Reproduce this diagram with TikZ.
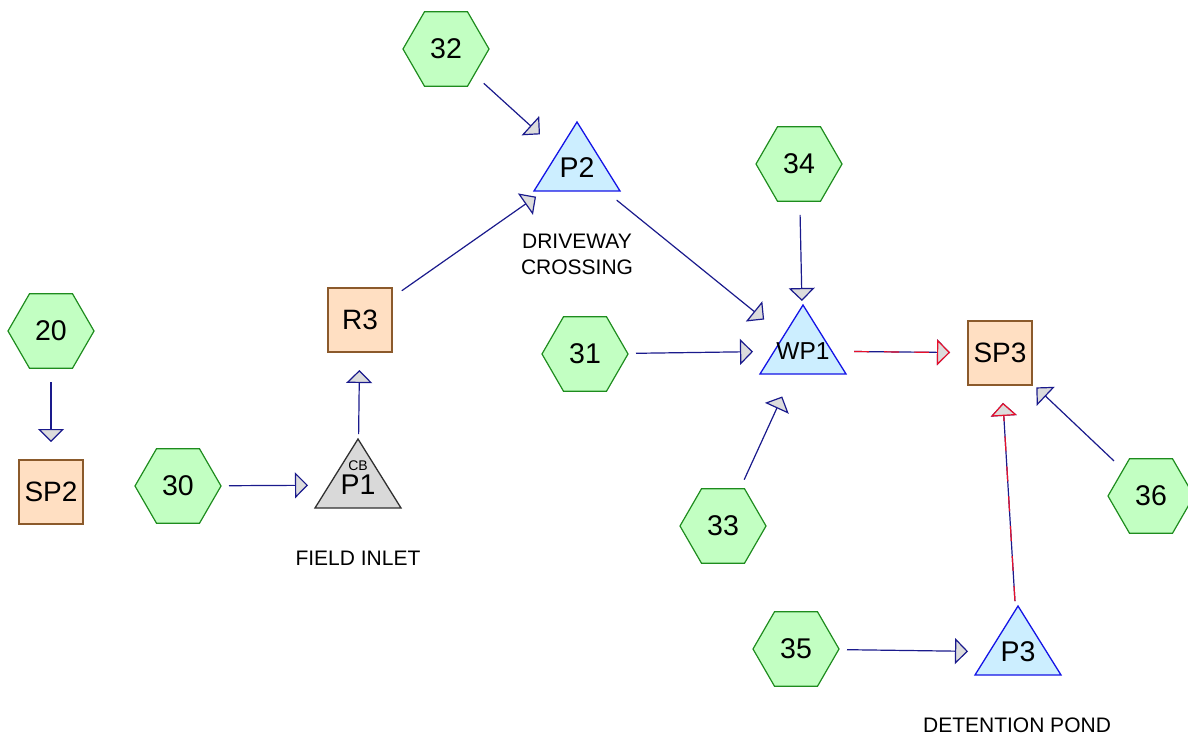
\documentclass[tikz,border=0pt]{standalone}
\usepackage{fontspec}
\setmainfont{Liberation Sans}
\usetikzlibrary{shapes.geometric,arrows.meta}

\definecolor{flownavy}{HTML}{1A1A8C}
\definecolor{flowred}{HTML}{E8102A}
\definecolor{tipgray}{HTML}{DCDCDC}
\definecolor{subfill}{HTML}{C2FFC2}
\definecolor{subline}{HTML}{1E8C1E}
\definecolor{reachfill}{HTML}{FFDFC2}
\definecolor{reachline}{HTML}{8B5A2B}
\definecolor{pondfill}{HTML}{CCEEFF}
\definecolor{pondline}{HTML}{1414E6}
\definecolor{inletfill}{HTML}{D9D9D9}
\definecolor{inletline}{HTML}{303030}

% triangular storage symbol: centroid (#1,#2), fill #3, outline #4
\newcommand\pondshape[4]{%
  \filldraw[fill=#3,draw=#4,line width=1.3pt,line join=miter]
    (#1,#2-46) -- (#1+43,#2+23) -- (#1-43,#2+23) -- cycle;}

\begin{document}
\begin{tikzpicture}[x=1pt,y=-1pt,
  hex/.style={regular polygon,regular polygon sides=6,minimum size=86pt,
    inner sep=0pt,outer sep=0pt,fill=subfill,draw=subline,line width=1.2pt,
    font=\fontsize{28.5pt}{32pt}\selectfont},
  sq/.style={rectangle,minimum size=64pt,inner sep=0pt,outer sep=0pt,
    fill=reachfill,draw=reachline,line width=1.2pt,
    font=\fontsize{28pt}{32pt}\selectfont},
  pondtext/.style={inner sep=0pt,font=\fontsize{28.5pt}{32pt}\selectfont},
  lbl/.style={inner sep=0pt,align=center,font=\fontsize{21pt}{26pt}\selectfont},
  flow/.style={draw=flownavy,line width=1.2pt,shorten <=51pt,shorten >=50pt,
    -{Triangle[length=13pt,width=26pt,fill=tipgray]}},
  redflow/.style={draw=flowred,line width=1.2pt,shorten <=51pt,shorten >=50pt,
    dash pattern=on 15pt off 15pt,
    -{Triangle[length=13pt,width=26pt,fill=tipgray]}}
]
\useasboundingbox (0,0) rectangle (1188,738);

% subcatchments
\node[hex] (h20) at (51,331) {20};
\node[hex] (h30) at (178,486) {30};
\node[hex] (h31) at (585,354) {31};
\node[hex] (h32) at (446,49) {32};
\node[hex] (h33) at (723,526) {33};
\node[hex] (h34) at (799,164) {34};
\node[hex] (h35) at (796,649) {35};
\node[hex] (h36) at (1151,496) {36};

% reaches / design points
\node[sq] (SP2) at (51,492) {SP2};
\node[sq] (R3) at (360,320) {R3};
\node[sq] (SP3) at (1000,353) {SP3};

% ponds
\pondshape{358}{485}{inletfill}{inletline}
\pondshape{577}{168}{pondfill}{pondline}
\pondshape{803}{351}{pondfill}{pondline}
\pondshape{1018}{652}{pondfill}{pondline}
\node[pondtext] (P1) at (358,485) {\raisebox{-4pt}{P1}};
\node[inner sep=0pt,font=\fontsize{14pt}{16pt}\selectfont] (P1cb) at (358,466) {CB};
\node[pondtext] (P2) at (577,168) {\raisebox{-3pt}{P2}};
\node[pondtext,font=\fontsize{24.5pt}{28pt}\selectfont] (WP1) at (803,351) {\raisebox{-3pt}{WP1}};
\node[pondtext] (P3) at (1018,652) {\raisebox{-5pt}{P3}};

% captions
\node[lbl] (capP1) at (358,558) {FIELD INLET};
\node[lbl] (capP2) at (577,254) {DRIVEWAY\\CROSSING};
\node[lbl] (capP3) at (1017,725) {DETENTION POND};

% routing links
\draw[flow] (h20.center) -- (SP2.center);
\draw[flow] (h30.center) -- (P1.center);
\draw[flow] (P1.center) -- (R3.center);
\draw[flow] (R3.center) -- (P2.center);
\draw[flow] (h32.center) -- (P2.center);
\draw[flow] (P2.center) -- (WP1.center);
\draw[flow] (h34.center) -- (WP1.center);
\draw[flow] (h31.center) -- (WP1.center);
\draw[flow] (h33.center) -- (WP1.center);
\draw[flow] (h36.center) -- (SP3.center);
\draw[flow] (h35.center) -- (P3.center);
% pond outflows
\draw[flow] (WP1.center) -- (SP3.center);
\draw[redflow] (WP1.center) -- (SP3.center);
\draw[flow] (P3.center) -- (SP3.center);
\draw[redflow] (P3.center) -- (SP3.center);
\end{tikzpicture}
\end{document}
